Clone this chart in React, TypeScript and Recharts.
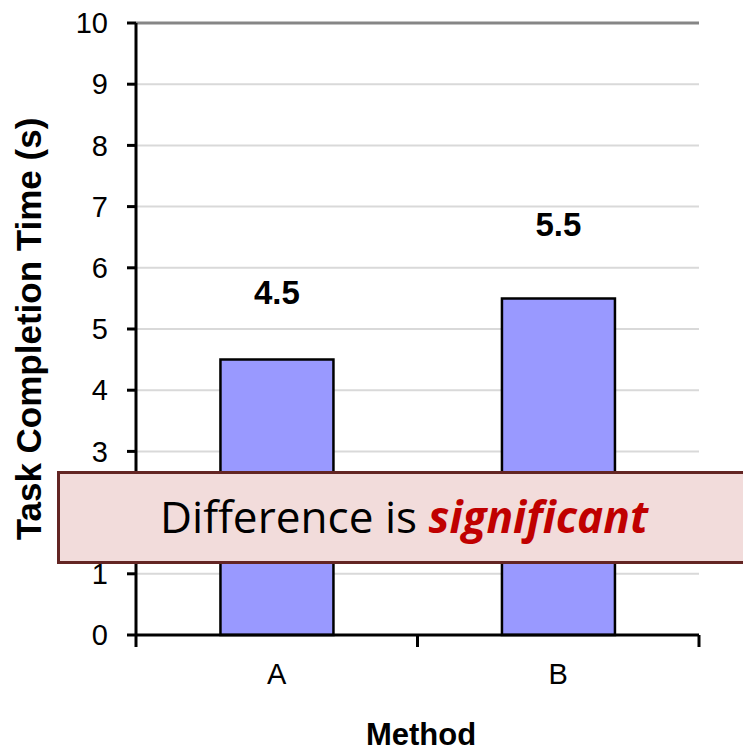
import React from "react";
import {
  BarChart,
  Bar,
  XAxis,
  YAxis,
  CartesianGrid,
  ReferenceLine,
  LabelList,
  Label,
} from "recharts";

const methods = ["A", "B"];
const times = [4.5, 5.5];
// hidden error bars: value labels sit just above them
const errors = [0.8, 0.9];
const yTicks = [0, 1, 2, 3, 4, 5, 6, 7, 8, 9, 10];

const data = methods.map((m, i) => ({ method: m, time: times[i], err: errors[i] }));

const FONT = "'Liberation Sans', Arial, sans-serif";

function MethodTick(props: any) {
  const { x, y, payload, index } = props;
  const half = payload?.offset ?? 140.75;
  const last = index === methods.length - 1;
  return (
    <g>
      <line x1={x - half} y1={y} x2={x - half} y2={y + 12} stroke="#000" strokeWidth={3} />
      {last && (
        <line x1={x + half} y1={y} x2={x + half} y2={y + 12} stroke="#000" strokeWidth={3} />
      )}
      <text x={x} y={y + 28} dy="0.71em" textAnchor="middle" fontSize={29} fontFamily={FONT} fill="#000">
        {payload.value}
      </text>
    </g>
  );
}

function ValueLabel(props: any) {
  const vb = props.viewBox ?? props;
  const x = props.x ?? vb.x;
  const y = props.y ?? vb.y;
  const width = props.width ?? vb.width;
  const height = props.height ?? vb.height;
  const value = Number(props.value);
  const idx = props.index ?? 0;
  const unit = height / value;
  return (
    <text
      x={x + width / 2}
      y={y - errors[idx] * unit - 7}
      textAnchor="middle"
      fontSize={33}
      fontWeight="bold"
      fontFamily={FONT}
      fill="#000"
    >
      {value.toFixed(1)}
    </text>
  );
}

function YTitle(props: any) {
  const vb = props.viewBox;
  const cy = vb.y + vb.height / 2;
  return (
    <text
      x={41}
      y={cy}
      transform={`rotate(-90, 41, ${cy})`}
      textAnchor="middle"
      fontSize={35}
      fontWeight="bold"
      fontFamily={FONT}
      fill="#000"
    >
      Task Completion Time (s)
    </text>
  );
}

export default function App() {
  return (
    <div style={{ position: "absolute", left: 0, top: 0, width: 743, height: 754, background: "#fff", fontFamily: FONT }}>
      <BarChart
        width={743}
        height={754}
        data={data}
        margin={{ top: 23, right: 44, bottom: 0, left: 0 }}
        barCategoryGap="30%"
      >
        <CartesianGrid vertical={false} stroke="#d9d9d9" strokeWidth={2} />
        <ReferenceLine y={10} stroke="#868686" strokeWidth={3} />
        <XAxis
          dataKey="method"
          height={119}
          axisLine={{ stroke: "#000", strokeWidth: 3 }}
          tickLine={false}
          tickSize={0}
          tickMargin={0}
          tick={<MethodTick />}
          interval={0}
        >
          <Label
            content={() => (
              <text x={421} y={745} textAnchor="middle" fontSize={31} fontWeight="bold" fontFamily={FONT} fill="#000">
                Method
              </text>
            )}
          />
        </XAxis>
        <YAxis
          width={136}
          domain={[0, 10]}
          ticks={yTicks}
          interval={0}
          axisLine={{ stroke: "#000", strokeWidth: 3 }}
          tickLine={{ stroke: "#000", strokeWidth: 3 }}
          tickSize={9}
          tickMargin={19}
          tick={{ fontSize: 29, fill: "#000", fontFamily: FONT }}
        >
          <Label content={<YTitle />} />
        </YAxis>
        <YAxis
          yAxisId="r"
          orientation="right"
          width={0}
          domain={[0, 10]}
          tick={false}
          tickLine={false}
          axisLine={{ stroke: "#969696", strokeWidth: 3 }}
        />
        <Bar dataKey="time" fill="#9999ff" stroke="#000" strokeWidth={2.5} isAnimationActive={false}>
          <LabelList dataKey="time" content={<ValueLabel />} />
        </Bar>
      </BarChart>
      <svg
        width={743}
        height={754}
        style={{ position: "absolute", left: 0, top: 0, pointerEvents: "none" }}
      >
        <rect x={58.5} y={472.5} width={700} height={90} fill="#f2dcdb" stroke="#632523" strokeWidth={3} />
        <text
          x={404}
          y={533}
          textAnchor="middle"
          fontSize={44}
          fontFamily="'Open Sans', 'Noto Sans', sans-serif"
          fill="#000"
          textLength={488}
          lengthAdjust="spacingAndGlyphs"
        >
          Difference is{" "}
          <tspan fill="#c00000" fontWeight="bold" fontStyle="italic">
            significant
          </tspan>
        </text>
      </svg>
    </div>
  );
}
